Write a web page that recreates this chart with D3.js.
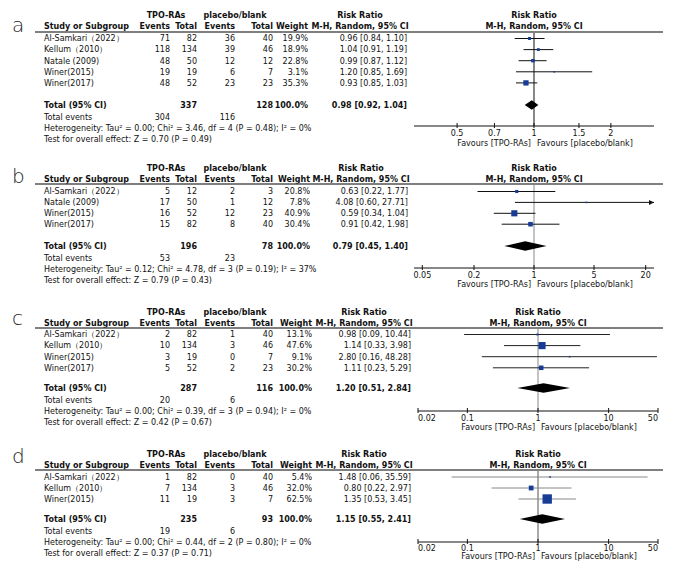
<!DOCTYPE html>
<html><head><meta charset="utf-8">
<script src="https://cdn.jsdelivr.net/npm/d3@7"></script>
<style>
body{margin:0;background:#fff}
svg{display:block}
text{font-family:"DejaVu Sans",sans-serif;font-size:8px;fill:#111}
text.b{font-weight:bold}
text.plabel{font-size:20px;font-weight:200;fill:#222}
</style>
</head><body><svg id="chart" width="685" height="578"></svg>
<script>
// ---------------- DATA ----------------
const panelNames = ["a", "b", "c", "d"];

const studiesA   = ["Al-Samkari（2022）", "Kellum（2010）", "Natale (2009)", "Winer(2015)", "Winer(2017)"];
const tpoEventsA = [71, 118, 48, 19, 48];
const tpoTotalA  = [82, 134, 50, 19, 52];
const plEventsA  = [36, 39, 12, 6, 23];
const plTotalA   = [40, 46, 12, 7, 23];
const weightA    = [19.9, 18.9, 22.8, 3.1, 35.3];
const rrA        = [0.96, 1.04, 0.99, 1.20, 0.93];
const loA        = [0.84, 0.91, 0.87, 0.85, 0.85];
const hiA        = [1.10, 1.19, 1.12, 1.69, 1.03];

const studiesB   = ["Al-Samkari（2022）", "Natale (2009)", "Winer(2015)", "Winer(2017)"];
const tpoEventsB = [5, 17, 16, 15];
const tpoTotalB  = [12, 50, 52, 82];
const plEventsB  = [2, 1, 12, 8];
const plTotalB   = [3, 12, 23, 40];
const weightB    = [20.8, 7.8, 40.9, 30.4];
const rrB        = [0.63, 4.08, 0.59, 0.91];
const loB        = [0.22, 0.60, 0.34, 0.42];
const hiB        = [1.77, 27.71, 1.04, 1.98];

const studiesC   = ["Al-Samkari（2022）", "Kellum（2010）", "Winer(2015)", "Winer(2017)"];
const tpoEventsC = [2, 10, 3, 5];
const tpoTotalC  = [82, 134, 19, 52];
const plEventsC  = [1, 3, 0, 2];
const plTotalC   = [40, 46, 7, 23];
const weightC    = [13.1, 47.6, 9.1, 30.2];
const rrC        = [0.98, 1.14, 2.80, 1.11];
const loC        = [0.09, 0.33, 0.16, 0.23];
const hiC        = [10.44, 3.98, 48.28, 5.29];

const studiesD   = ["Al-Samkari（2022）", "Kellum（2010）", "Winer(2015)"];
const tpoEventsD = [1, 7, 11];
const tpoTotalD  = [82, 134, 19];
const plEventsD  = [0, 3, 3];
const plTotalD   = [40, 46, 7];
const weightD    = [5.4, 32.0, 62.5];
const rrD        = [1.48, 0.80, 1.35];
const loD        = [0.06, 0.22, 0.53];
const hiD        = [35.59, 2.97, 3.45];

const totalTpo       = [337, 196, 287, 235];
const totalPl        = [128, 78, 116, 93];
const totalEventsTpo = [304, 53, 20, 19];
const totalEventsPl  = [116, 23, 6, 6];
const pooledRR       = [0.98, 0.79, 1.20, 1.15];
const pooledLo       = [0.92, 0.45, 0.51, 0.55];
const pooledHi       = [1.04, 1.40, 2.84, 2.41];
const heterogeneity  = [
  "Tau² = 0.00; Chi² = 3.46, df = 4 (P = 0.48); I² = 0%",
  "Tau² = 0.12; Chi² = 4.78, df = 3 (P = 0.19); I² = 37%",
  "Tau² = 0.00; Chi² = 0.39, df = 3 (P = 0.94); I² = 0%",
  "Tau² = 0.00; Chi² = 0.44, df = 2 (P = 0.80); I² = 0%"
];
const overallEffect  = ["Z = 0.70 (P = 0.49)", "Z = 0.79 (P = 0.43)", "Z = 0.42 (P = 0.67)", "Z = 0.37 (P = 0.71)"];
const axisTicks      = [[0.5, 0.7, 1, 1.5, 2], [0.05, 0.2, 1, 5, 20], [0.02, 0.1, 1, 10, 50], [0.02, 0.1, 1, 10, 50]];
const axisDomains    = [[0.339, 2.95], [0.04, 25], [0.02, 50], [0.02, 50]];
const groupLabels    = ["TPO-RAs", "placebo/blank"];
const favourLabels   = ["Favours [TPO-RAs]", "Favours [placebo/blank]"];

const studyData = [
  [studiesA, tpoEventsA, tpoTotalA, plEventsA, plTotalA, weightA, rrA, loA, hiA],
  [studiesB, tpoEventsB, tpoTotalB, plEventsB, plTotalB, weightB, rrB, loB, hiB],
  [studiesC, tpoEventsC, tpoTotalC, plEventsC, plTotalC, weightC, rrC, loC, hiC],
  [studiesD, tpoEventsD, tpoTotalD, plEventsD, plTotalD, weightD, rrD, loD, hiD]
];

// ---------------- LAYOUT ----------------
const layouts = [
  {h1:15, h2:26, rule:32, row0:38.5, step:11.1, total:105, ev:117, het:128, test:139, axisY:126, tickY:133, favY:143, labelY:32, x0:414, x1:654, wr:308, rr:407, ci:"#111", vline:"#111"},
  {h1:168, h2:179, rule:184, row0:191.5, step:10.9, total:246, ev:258, het:269, test:280, axisY:268, tickY:275, favY:284, labelY:183, x0:414, x1:654, wr:310, rr:408, ci:"#111", vline:"#888"},
  {h1:312, h2:323, rule:328, row0:334.5, step:11.1, total:388, ev:400, het:411, test:422, axisY:411, tickY:418, favY:427, labelY:325, x0:418, x1:658, wr:312, rr:411, ci:"#222", vline:"#888"},
  {h1:454, h2:465, rule:470, row0:477, step:11, total:519, ev:531, het:542, test:553, axisY:542, tickY:548.5, favY:556, labelY:463, x0:418, x1:658, wr:312, rr:411, ci:"#888", vline:"#555"}
];
const COL = {study:44, e1:170, t1:197, e2:235, t2:273};
const f2 = d3.format(".2f"), f1 = d3.format(".1f");
const svg = d3.select("#chart");

function txt(g, x, y, s, anchor, bold) {
  return g.append("text").attr("x", x).attr("y", y).attr("dy", "0.35em")
    .attr("text-anchor", anchor || "start").classed("b", !!bold).text(s);
}

function drawPanel(i) {
  const L = layouts[i];
  const [names, e1, t1, e2, t2, w, rr, lo, hi] = studyData[i];
  const g = svg.append("g");
  const dom = axisDomains[i];
  const x = d3.scaleLog().domain(dom).range([L.x0, L.x1]);
  const side = d3.scaleLinear().domain([0, 100]).range([0, 15]);
  const rrC = L.rr - 47, plotC = (L.x0 + L.x1) / 2;

  g.append("text").attr("class", "plabel").attr("x", 12).attr("y", L.labelY).text(panelNames[i]);

  // headers
  txt(g, 166, L.h1, groupLabels[0], "middle", true);
  txt(g, 235, L.h1, groupLabels[1], "middle", true);
  txt(g, rrC, L.h1, "Risk Ratio", "middle", true);
  txt(g, plotC, L.h1, "Risk Ratio", "middle", true);
  txt(g, COL.study, L.h2, "Study or Subgroup", "start", true);
  txt(g, COL.e1, L.h2, "Events", "end", true);
  txt(g, COL.t1, L.h2, "Total", "end", true);
  txt(g, COL.e2, L.h2, "Events", "end", true);
  txt(g, COL.t2, L.h2, "Total", "end", true);
  txt(g, L.wr, L.h2, "Weight", "end", true);
  txt(g, rrC, L.h2, "M-H, Random, 95% CI", "middle", true);
  txt(g, plotC, L.h2, "M-H, Random, 95% CI", "middle", true);
  g.append("line").attr("x1", 35).attr("x2", 663).attr("y1", L.rule).attr("y2", L.rule)
    .attr("stroke", "#555").attr("stroke-width", 1.5);

  // null line
  g.append("line").attr("x1", x(1)).attr("x2", x(1)).attr("y1", L.rule + 1).attr("y2", L.axisY)
    .attr("stroke", L.vline).attr("stroke-width", 1);

  // study rows
  names.forEach((n, j) => {
    const y = L.row0 + L.step * j;
    txt(g, COL.study, y, n);
    txt(g, COL.e1, y, e1[j], "end");
    txt(g, COL.t1, y, t1[j], "end");
    txt(g, COL.e2, y, e2[j], "end");
    txt(g, COL.t2, y, t2[j], "end");
    txt(g, L.wr, y, f1(w[j]) + "%", "end");
    txt(g, L.rr, y, `${f2(rr[j])} [${f2(lo[j])}, ${f2(hi[j])}]`, "end");
    const a = Math.max(lo[j], dom[0]), b = Math.min(hi[j], dom[1]);
    g.append("line").attr("x1", x(a)).attr("x2", x(b)).attr("y1", y).attr("y2", y)
      .attr("stroke", L.ci).attr("stroke-width", 1);
    if (hi[j] > dom[1]) {
      const xe = x(dom[1]);
      g.append("path").attr("d", `M${xe},${y} L${xe - 5},${y - 2.5} L${xe - 5},${y + 2.5} Z`).attr("fill", "#111");
    }
    if (lo[j] < dom[0]) {
      const xs = x(dom[0]);
      g.append("path").attr("d", `M${xs},${y} L${xs + 5},${y - 2.5} L${xs + 5},${y + 2.5} Z`).attr("fill", "#111");
    }
    const s = Math.max(1.6, side(w[j]));
    g.append("rect").attr("x", x(rr[j]) - s / 2).attr("y", y - s / 2).attr("width", s).attr("height", s)
      .attr("fill", "#163c96");
  });

  // total row
  txt(g, COL.study, L.total, "Total (95% CI)", "start", true);
  txt(g, COL.t1, L.total, totalTpo[i], "end", true);
  txt(g, COL.t2, L.total, totalPl[i], "end", true);
  txt(g, L.wr, L.total, "100.0%", "end", true);
  txt(g, L.rr, L.total, `${f2(pooledRR[i])} [${f2(pooledLo[i])}, ${f2(pooledHi[i])}]`, "end", true);
  const hh = 4.8, yt = L.total;
  g.append("path")
    .attr("d", `M${x(pooledLo[i])},${yt} L${x(pooledRR[i])},${yt - hh} L${x(pooledHi[i])},${yt} L${x(pooledRR[i])},${yt + hh} Z`)
    .attr("fill", "#000");

  txt(g, COL.study, L.ev, "Total events");
  txt(g, COL.e1, L.ev, totalEventsTpo[i], "end");
  txt(g, COL.e2, L.ev, totalEventsPl[i], "end");
  txt(g, COL.study, L.het, "Heterogeneity: " + heterogeneity[i]);
  txt(g, COL.study, L.test, "Test for overall effect: " + overallEffect[i]);

  // axis
  g.append("line").attr("x1", L.x0).attr("x2", L.x1).attr("y1", L.axisY).attr("y2", L.axisY)
    .attr("stroke", "#111").attr("stroke-width", 1);
  axisTicks[i].forEach(t => {
    g.append("line").attr("x1", x(t)).attr("x2", x(t)).attr("y1", L.axisY - 3).attr("y2", L.axisY + 2)
      .attr("stroke", "#111").attr("stroke-width", 1);
    const anchor = t === dom[0] ? "start" : (t === dom[1] ? "end" : "middle");
    txt(g, x(t), L.tickY, String(t), anchor);
  });
  txt(g, x(1) - 3, L.favY, favourLabels[0], "end");
  txt(g, x(1) + 3, L.favY, favourLabels[1], "start");
}

panelNames.forEach((_, i) => drawPanel(i));
</script>
</body></html>
